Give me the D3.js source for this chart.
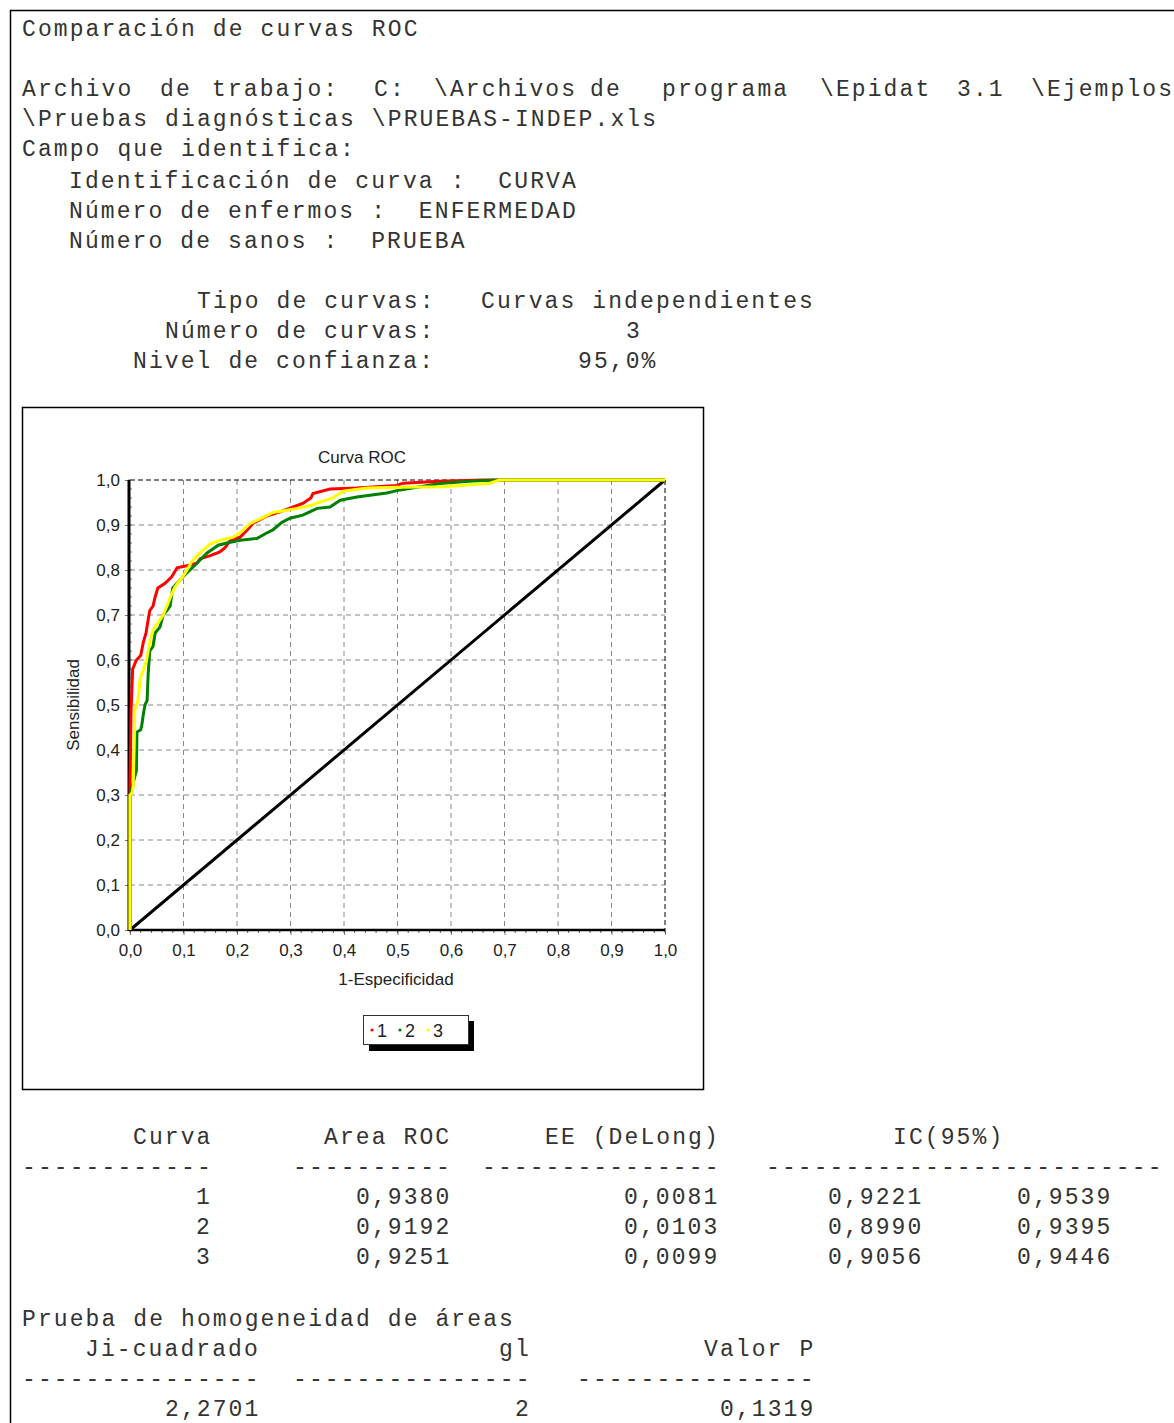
<!DOCTYPE html>
<html>
<head>
<meta charset="utf-8">
<script src="https://cdn.jsdelivr.net/npm/d3@7"></script>
<style>
  body { margin: 0; background: #fff; }
  .mono { font-family: "Liberation Mono", "Courier New", monospace; font-size: 23px; letter-spacing: 2.1px; fill: #333; }
  .sans { font-family: "Liberation Sans", Arial, sans-serif; fill: #222; }
</style>
</head>
<body>
<svg id="page" width="1174" height="1423"></svg>
<script>
// ---- report text (x start, line y, text) ----
var headerLines = [
  [22, 29, "Comparación de curvas ROC"],
  [22, 89, "Archivo"], [160, 89, "de"], [212, 89, "trabajo:"], [374, 89, "C:"],
  [434, 89, "\\Archivos"], [590, 89, "de"], [662, 89, "programa"], [820, 89, "\\Epidat"],
  [957, 89, "3.1"], [1031, 89, "\\Ejemplos"],
  [22, 119, "\\Pruebas diagnósticas \\PRUEBAS-INDEP.xls"],
  [22, 149, "Campo que identifica:"],
  [69, 181, "Identificación de curva :  CURVA"],
  [69, 211, "Número de enfermos :  ENFERMEDAD"],
  [69, 241, "Número de sanos :  PRUEBA"],
  [197, 301, "Tipo de curvas:"], [481, 301, "Curvas independientes"],
  [165, 331, "Número de curvas:"], [626, 331, "3"],
  [133, 361, "Nivel de confianza:"], [578, 361, "95,0%"]
];

var tableHead = ["Curva", "Area ROC", "EE (DeLong)", "IC(95%)"];
var curvaIds = ["1", "2", "3"];
var areaRoc = ["0,9380", "0,9192", "0,9251"];
var eeDeLong = ["0,0081", "0,0103", "0,0099"];
var icLow = ["0,9221", "0,8990", "0,9056"];
var icHigh = ["0,9539", "0,9395", "0,9446"];

var homogTitle = "Prueba de homogeneidad de áreas";
var homogHead = ["Ji-cuadrado", "gl", "Valor P"];
var homogVals = ["2,2701", "2", "0,1319"];

// ---- ROC curves [1-especificidad, sensibilidad] ----
var curva1 = [[0,0],[0,0.32],[0.002,0.49],[0.005,0.58],[0.012,0.60],[0.02,0.61],[0.025,0.64],[0.03,0.66],
  [0.034,0.69],[0.037,0.71],[0.043,0.72],[0.047,0.74],[0.052,0.76],[0.065,0.77],[0.078,0.785],[0.088,0.805],
  [0.108,0.81],[0.125,0.815],[0.131,0.825],[0.15,0.832],[0.168,0.84],[0.178,0.85],[0.187,0.865],[0.206,0.873],
  [0.22,0.89],[0.23,0.904],[0.256,0.92],[0.28,0.929],[0.305,0.94],[0.323,0.948],[0.338,0.96],[0.342,0.97],
  [0.374,0.98],[0.424,0.982],[0.499,0.988],[0.51,0.993],[0.579,0.997],[0.66,1.0],[1,1]];
var curva2 = [[0,0],[0,0.3],[0.012,0.355],[0.013,0.44],[0.02,0.445],[0.022,0.455],[0.025,0.48],[0.028,0.50],
  [0.032,0.51],[0.034,0.57],[0.037,0.62],[0.043,0.63],[0.047,0.66],[0.056,0.673],[0.062,0.70],[0.069,0.71],
  [0.075,0.72],[0.08,0.76],[0.099,0.785],[0.125,0.815],[0.144,0.838],[0.165,0.855],[0.181,0.86],[0.206,0.866],
  [0.237,0.87],[0.252,0.88],[0.267,0.889],[0.284,0.906],[0.299,0.915],[0.323,0.922],[0.35,0.937],[0.374,0.94],
  [0.393,0.955],[0.424,0.962],[0.48,0.971],[0.505,0.978],[0.579,0.992],[0.641,0.998],[0.69,1.0],[1,1]];
var curva3 = [[0,0],[0,0.30],[0.004,0.305],[0.006,0.32],[0.009,0.49],[0.015,0.51],[0.019,0.56],[0.025,0.578],
  [0.031,0.60],[0.037,0.64],[0.043,0.667],[0.052,0.682],[0.062,0.70],[0.075,0.738],[0.084,0.762],[0.103,0.793],
  [0.116,0.82],[0.131,0.838],[0.15,0.858],[0.168,0.866],[0.193,0.873],[0.211,0.888],[0.224,0.903],[0.249,0.917],
  [0.267,0.928],[0.293,0.933],[0.318,0.938],[0.342,0.945],[0.35,0.949],[0.379,0.96],[0.398,0.975],[0.443,0.982],
  [0.5,0.984],[0.585,0.985],[0.673,0.993],[0.69,1.0],[1,1]];
var diagonal = [[0,0],[1,1]];
var curveColors = ["#ff0000", "#008000", "#ffff00"];
var ticks = [0,0.1,0.2,0.3,0.4,0.5,0.6,0.7,0.8,0.9,1.0];

var svg = d3.select("#page");

// page frame
svg.append("line").attr("x1", 10).attr("y1", 10.5).attr("x2", 1174).attr("y2", 10.5).attr("stroke", "#000").attr("stroke-width", 1.5);
svg.append("line").attr("x1", 10.5).attr("y1", 10).attr("x2", 10.5).attr("y2", 1423).attr("stroke", "#000").attr("stroke-width", 1.5);

var BL = 7; // baseline offset from line centre

function monoText(x, y, t) {
  svg.append("text").attr("class", "mono").attr("x", x).attr("y", y + BL)
    .attr("xml:space", "preserve").text(t);
}

headerLines.forEach(function(d) { monoText(d[0], d[1], d[2]); });

// results table
var headX = [133, 324, 545, 893];
tableHead.forEach(function(t, i) { monoText(headX[i], 1137, t); });
[[22, 12], [293, 10], [482, 15], [766, 25]].forEach(function(d) {
  monoText(d[0], 1167, "-".repeat(d[1]));
});
curvaIds.forEach(function(c, i) {
  var y = 1197 + i * 30;
  monoText(196, y, c);
  monoText(356, y, areaRoc[i]);
  monoText(624, y, eeDeLong[i]);
  monoText(828, y, icLow[i]);
  monoText(1017, y, icHigh[i]);
});

monoText(22, 1319, homogTitle);
var hx = [85, 499, 704];
homogHead.forEach(function(t, i) { monoText(hx[i], 1349, t); });
[22, 293, 577].forEach(function(x) { monoText(x, 1379, "-".repeat(15)); });
var hvx = [165, 515, 720];
homogVals.forEach(function(t, i) { monoText(hvx[i], 1409, t); });

// ---- chart box ----
svg.append("rect").attr("x", 22.5).attr("y", 407.5).attr("width", 681).attr("height", 682)
  .attr("fill", "#fff").attr("stroke", "#000").attr("stroke-width", 1.5);

var x = d3.scaleLinear().domain([0, 1]).range([130, 665]);
var y = d3.scaleLinear().domain([0, 1]).range([930, 480]);
var loc = d3.formatLocale({ decimal: ",", thousands: ".", grouping: [3], currency: ["", ""] });
var fmt = loc.format(".1f");

var g = svg.append("g");

// grid
var inner = ticks.slice(1, 10);
g.selectAll(".gx").data(inner).enter().append("line")
  .attr("x1", function(d) { return x(d); }).attr("x2", function(d) { return x(d); })
  .attr("y1", y(1)).attr("y2", y(0))
  .attr("stroke", "#888").attr("stroke-dasharray", "5,4").attr("stroke-width", 1);
g.selectAll(".gy").data(inner).enter().append("line")
  .attr("x1", x(0)).attr("x2", x(1))
  .attr("y1", function(d) { return y(d); }).attr("y2", function(d) { return y(d); })
  .attr("stroke", "#888").attr("stroke-dasharray", "5,4").attr("stroke-width", 1);

// top and right frame dashed
g.append("line").attr("x1", x(0)).attr("x2", x(1)).attr("y1", y(1)).attr("y2", y(1))
  .attr("stroke", "#000").attr("stroke-dasharray", "5,3");
g.append("line").attr("x1", x(1)).attr("x2", x(1)).attr("y1", y(1)).attr("y2", y(0))
  .attr("stroke", "#000").attr("stroke-dasharray", "5,3");

// axes
var minor = d3.range(0, 1.001, 0.02);
var yAxis = g.append("g").attr("transform", "translate(" + x(0) + ",0)")
  .call(d3.axisLeft(y).tickValues(ticks).tickFormat(fmt).tickSize(5).tickPadding(5));
var xAxis = g.append("g").attr("transform", "translate(0," + y(0) + ")")
  .call(d3.axisBottom(x).tickValues(ticks).tickFormat(fmt).tickSize(5).tickPadding(9));
[yAxis, xAxis].forEach(function(a) {
  a.select(".domain").remove();
  a.selectAll(".tick line").attr("stroke", "#777");
  a.selectAll("text").attr("class", "sans").style("font-size", "17px").attr("fill", "#222");
});
g.selectAll(".my").data(minor).enter().append("line")
  .attr("x1", x(0) - 2).attr("x2", x(0) + 2)
  .attr("y1", function(d) { return y(d); }).attr("y2", function(d) { return y(d); })
  .attr("stroke", "#777");
g.selectAll(".mx").data(minor).enter().append("line")
  .attr("y1", y(0)).attr("y2", y(0) + 3)
  .attr("x1", function(d) { return x(d); }).attr("x2", function(d) { return x(d); })
  .attr("stroke", "#555");
g.append("line").attr("x1", x(0) - 1).attr("x2", x(0) - 1).attr("y1", y(1)).attr("y2", y(0) + 1)
  .attr("stroke", "#000").attr("stroke-width", 3);
g.append("line").attr("x1", x(0)).attr("x2", x(1)).attr("y1", y(0)).attr("y2", y(0))
  .attr("stroke", "#000").attr("stroke-width", 2.5);

// curves
var line = d3.line().x(function(d) { return x(d[0]); }).y(function(d) { return y(d[1]); });
g.append("path").datum(diagonal).attr("d", line).attr("fill", "none")
  .attr("stroke", "#000").attr("stroke-width", 3);
[curva1, curva2, curva3].forEach(function(c, i) {
  g.append("path").datum(c).attr("d", line).attr("fill", "none")
    .attr("stroke", curveColors[i]).attr("stroke-width", 3).attr("stroke-linejoin", "miter");
});

// titles
svg.append("text").attr("class", "sans").attr("x", 362).attr("y", 463).attr("text-anchor", "middle")
  .style("font-size", "17px").text("Curva ROC");
svg.append("text").attr("class", "sans").attr("x", 396).attr("y", 985).attr("text-anchor", "middle")
  .style("font-size", "17px").text("1-Especificidad");
svg.append("text").attr("class", "sans").attr("transform", "translate(79,705) rotate(-90)")
  .attr("text-anchor", "middle").style("font-size", "17px").text("Sensibilidad");

// legend
var lg = svg.append("g");
lg.append("rect").attr("x", 369).attr("y", 1021).attr("width", 105).attr("height", 30).attr("fill", "#000");
lg.append("rect").attr("x", 363.5).attr("y", 1015.5).attr("width", 105).attr("height", 29)
  .attr("fill", "#fff").attr("stroke", "#333").attr("stroke-width", 1);
curvaIds.forEach(function(c, i) {
  var lx = 372 + i * 28;
  lg.append("circle").attr("cx", lx).attr("cy", 1030).attr("r", 1.6).attr("fill", curveColors[i]);
  lg.append("text").attr("class", "sans").attr("x", lx + 5).attr("y", 1037).style("font-size", "18px").text(c);
});
</script>
</body>
</html>
